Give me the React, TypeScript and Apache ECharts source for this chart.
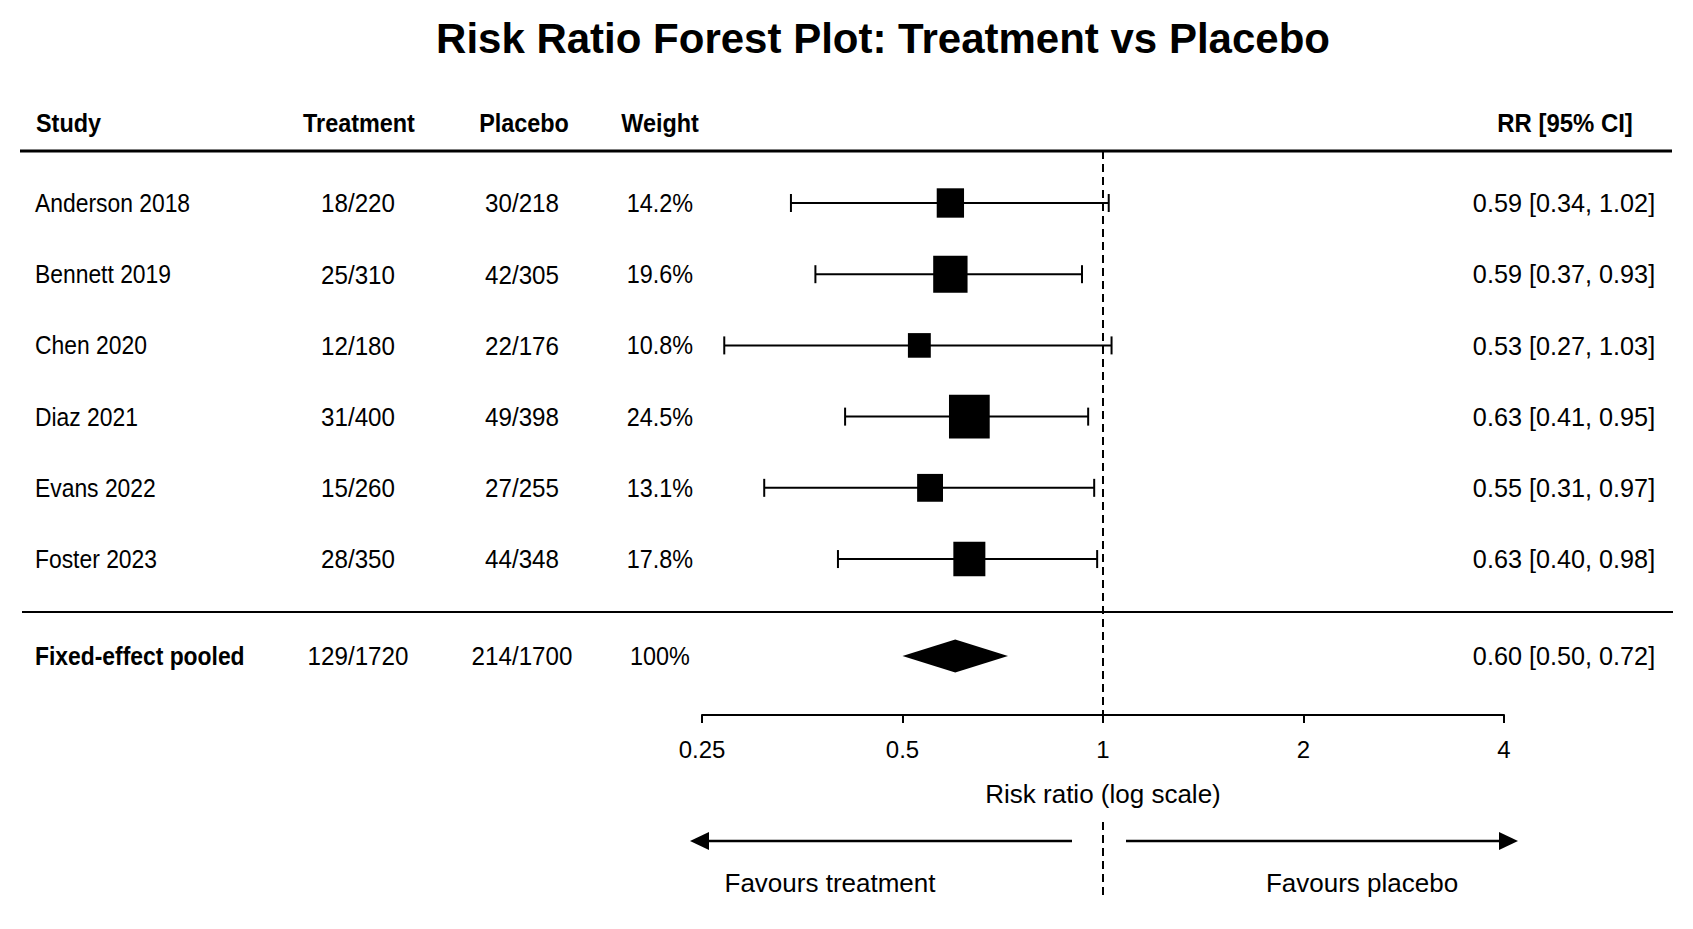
import React, { useEffect, useRef } from "react";
import * as echarts from "echarts";

// ---------------- data ----------------
const studies = ["Anderson 2018", "Bennett 2019", "Chen 2020", "Diaz 2021", "Evans 2022", "Foster 2023"];
const treatmentCounts = ["18/220", "25/310", "12/180", "31/400", "15/260", "28/350"];
const placeboCounts = ["30/218", "42/305", "22/176", "49/398", "27/255", "44/348"];
const weights = [14.2, 19.6, 10.8, 24.5, 13.1, 17.8];
const rrEstimates = [0.59, 0.59, 0.53, 0.63, 0.55, 0.63];
const ciLower = [0.34, 0.37, 0.27, 0.41, 0.31, 0.4];
const ciUpper = [1.02, 0.93, 1.03, 0.95, 0.97, 0.98];

const pooledLabel = "Fixed-effect pooled";
const pooledTreatment = "129/1720";
const pooledPlacebo = "214/1700";
const pooledWeight = "100%";
const pooledRR = 0.6;
const pooledLower = 0.5;
const pooledUpper = 0.72;

const xTicks = [0.25, 0.5, 1, 2, 4];
const headers = ["Study", "Treatment", "Placebo", "Weight", "RR [95% CI]"];

const titleText = "Risk Ratio Forest Plot: Treatment vs Placebo";
const axisTitle = "Risk ratio (log scale)";
const favoursLeft = "Favours treatment";
const favoursRight = "Favours placebo";

// ---------------- layout ----------------
const FONT = "'Liberation Sans', Arial, Helvetica, sans-serif";
const W = 1693;
const H = 929;
const GRID_LEFT = 702;
const GRID_RIGHT_X = 1504;
const GRID_TOP = 151;
const AXIS_Y = 715;
const Y_MIN = -0.73;
const Y_MAX = 7.19;
const POOLED_GAP = 0.36;

const COL_STUDY = 35;
const COL_TRT = 358;
const COL_PLA = 522;
const COL_WT = 660;
const COL_RR = 1564;

const fmt2 = (v: number) => v.toFixed(2);
const rrLabel = (e: number, l: number, u: number) => `${fmt2(e)} [${fmt2(l)}, ${fmt2(u)}]`;

type Row = { name: string; trt: string; pla: string; wt: string; rr: string; bold: boolean; pos: number };

const rows: Row[] = studies.map((s, i) => ({
  name: s,
  trt: treatmentCounts[i],
  pla: placeboCounts[i],
  wt: `${weights[i].toFixed(1)}%`,
  rr: rrLabel(rrEstimates[i], ciLower[i], ciUpper[i]),
  bold: false,
  pos: i,
}));
rows.push({
  name: pooledLabel,
  trt: pooledTreatment,
  pla: pooledPlacebo,
  wt: pooledWeight,
  rr: rrLabel(pooledRR, pooledLower, pooledUpper),
  bold: true,
  pos: studies.length + POOLED_GAP,
});

const boxHeight = (w: number) => 9.5 + 1.4 * w;

function txt(text: string, x: number, y: number, opts: any = {}) {
  return {
    type: "text",
    x,
    y,
    scaleX: opts.scaleX ?? 1,
    silent: true,
    style: {
      text,
      fontFamily: FONT,
      fontSize: opts.fontSize ?? 26,
      fontWeight: opts.bold ? "bold" : "normal",
      fill: "#000",
      align: opts.align ?? "left",
      verticalAlign: "middle",
    },
  };
}

export default function App() {
  const ref = useRef<HTMLDivElement>(null);

  useEffect(() => {
    if (!ref.current) return;
    const chart = echarts.init(ref.current, null, { renderer: "svg" });

    const option: any = {
      animation: false,
      backgroundColor: "#ffffff",
      grid: {
        left: GRID_LEFT,
        right: W - GRID_RIGHT_X,
        top: GRID_TOP,
        bottom: H - AXIS_Y,
        containLabel: false,
      },
      xAxis: {
        type: "log",
        logBase: 2,
        min: xTicks[0],
        max: xTicks[xTicks.length - 1],
        splitNumber: xTicks.length - 1,
        splitLine: { show: false },
        axisLine: { show: true, onZero: false, lineStyle: { color: "#000", width: 2 } },
        axisTick: { show: true, length: 8, lineStyle: { color: "#000", width: 2 } },
        axisLabel: {
          color: "#000",
          fontFamily: FONT,
          fontSize: 24,
          margin: 22,
          formatter: (v: number) => String(parseFloat(Number(v).toPrecision(3))),
        },
        name: axisTitle,
        nameLocation: "middle",
        nameGap: 66,
        nameTextStyle: { color: "#000", fontFamily: FONT, fontSize: 26 },
      },
      yAxis: {
        type: "value",
        min: Y_MIN,
        max: Y_MAX,
        inverse: true,
        show: false,
        splitLine: { show: false },
      },
      graphic: [
        txt(titleText, 883, 38, { fontSize: 42, bold: true, align: "center" }),
        txt(headers[0], 36, 123, { bold: true, scaleX: 0.9 }),
        txt(headers[1], 359, 123, { bold: true, scaleX: 0.9, align: "center" }),
        txt(headers[2], 524, 123, { bold: true, scaleX: 0.9, align: "center" }),
        txt(headers[3], 660, 123, { bold: true, scaleX: 0.9, align: "center" }),
        txt(headers[4], 1565, 123, { bold: true, scaleX: 0.92, align: "center" }),
        {
          type: "line",
          silent: true,
          shape: { x1: 20, y1: 151, x2: 1672, y2: 151 },
          style: { stroke: "#000", lineWidth: 3 },
        },
        {
          type: "line",
          silent: true,
          shape: { x1: 22, y1: 612, x2: 1673, y2: 612 },
          style: { stroke: "#000", lineWidth: 2 },
        },
        // arrows
        {
          type: "line",
          silent: true,
          shape: { x1: 700, y1: 841, x2: 1072, y2: 841 },
          style: { stroke: "#000", lineWidth: 2.5 },
        },
        {
          type: "polygon",
          silent: true,
          shape: { points: [[690, 841], [709, 832], [709, 850]] },
          style: { fill: "#000" },
        },
        {
          type: "line",
          silent: true,
          shape: { x1: 1126, y1: 841, x2: 1508, y2: 841 },
          style: { stroke: "#000", lineWidth: 2.5 },
        },
        {
          type: "polygon",
          silent: true,
          shape: { points: [[1518, 841], [1499, 832], [1499, 850]] },
          style: { fill: "#000" },
        },
        txt(favoursLeft, 830, 883, { align: "center" }),
        txt(favoursRight, 1362, 883, { align: "center" }),
      ],
      series: [
        // reference dashed line at RR = 1
        {
          type: "custom",
          silent: true,
          clip: false,
          data: [[1, 0]],
          encode: { x: 0, y: 1 },
          renderItem: (params: any, api: any) => {
            const x = api.coord([api.value(0), 0])[0];
            const cs = params.coordSys;
            const ls = { stroke: "#000", lineWidth: 2, lineDash: [8, 5] };
            return {
              type: "group",
              children: [
                { type: "line", shape: { x1: x, y1: cs.y, x2: x, y2: cs.y + cs.height + 8 }, style: ls },
                { type: "line", shape: { x1: x, y1: 822, x2: x, y2: 896 }, style: ls },
              ],
            };
          },
        },
        // confidence intervals
        {
          type: "custom",
          silent: true,
          clip: false,
          data: studies.map((_, i) => [ciLower[i], ciUpper[i], i]),
          encode: { x: [0, 1], y: 2 },
          renderItem: (params: any, api: any) => {
            const y = api.value(2);
            const p1 = api.coord([api.value(0), y]);
            const p2 = api.coord([api.value(1), y]);
            const st = { stroke: "#000", lineWidth: 2 };
            const cap = 9;
            return {
              type: "group",
              children: [
                { type: "line", shape: { x1: p1[0], y1: p1[1], x2: p2[0], y2: p2[1] }, style: st },
                { type: "line", shape: { x1: p1[0], y1: p1[1] - cap, x2: p1[0], y2: p1[1] + cap }, style: st },
                { type: "line", shape: { x1: p2[0], y1: p2[1] - cap, x2: p2[0], y2: p2[1] + cap }, style: st },
              ],
            };
          },
        },
        // boxes
        {
          type: "custom",
          silent: true,
          clip: false,
          data: studies.map((_, i) => [rrEstimates[i], i, weights[i]]),
          encode: { x: 0, y: 1 },
          renderItem: (params: any, api: any) => {
            const c = api.coord([api.value(0), api.value(1)]);
            const h = boxHeight(api.value(2));
            const w = h * 0.93;
            return {
              type: "rect",
              shape: { x: c[0] - w / 2, y: c[1] - h / 2, width: w, height: h },
              style: { fill: "#000" },
            };
          },
        },
        // pooled diamond
        {
          type: "custom",
          silent: true,
          clip: false,
          data: [[pooledRR, pooledLower, pooledUpper, studies.length + POOLED_GAP]],
          encode: { x: [0, 1, 2], y: 3 },
          renderItem: (params: any, api: any) => {
            const y = api.value(3);
            const c = api.coord([api.value(0), y]);
            const l = api.coord([api.value(1), y]);
            const r = api.coord([api.value(2), y]);
            const hh = 16.5;
            return {
              type: "polygon",
              shape: {
                points: [
                  [l[0], c[1]],
                  [c[0], c[1] - hh],
                  [r[0], c[1]],
                  [c[0], c[1] + hh],
                ],
              },
              style: { fill: "#000" },
            };
          },
        },
        // table text
        {
          type: "custom",
          silent: true,
          clip: false,
          data: rows.map((r) => [1, r.pos]),
          encode: { x: 0, y: 1 },
          renderItem: (params: any, api: any) => {
            const r = rows[params.dataIndex];
            const y = api.coord([1, api.value(1)])[1];
            return {
              type: "group",
              children: [
                txt(r.name, COL_STUDY, y, { bold: r.bold, scaleX: 0.88 }),
                txt(r.trt, COL_TRT, y, { scaleX: 0.93, align: "center" }),
                txt(r.pla, COL_PLA, y, { scaleX: 0.93, align: "center" }),
                txt(r.wt, COL_WT, y, { scaleX: 0.9, align: "center" }),
                txt(r.rr, COL_RR, y, { scaleX: 0.97, align: "center" }),
              ],
            };
          },
        },
      ],
    };

    chart.setOption(option);
    return () => {
      chart.dispose();
    };
  }, []);

  return (
    <div
      ref={ref}
      style={{ position: "fixed", left: 0, top: 0, width: W, height: H, background: "#fff" }}
    />
  );
}
